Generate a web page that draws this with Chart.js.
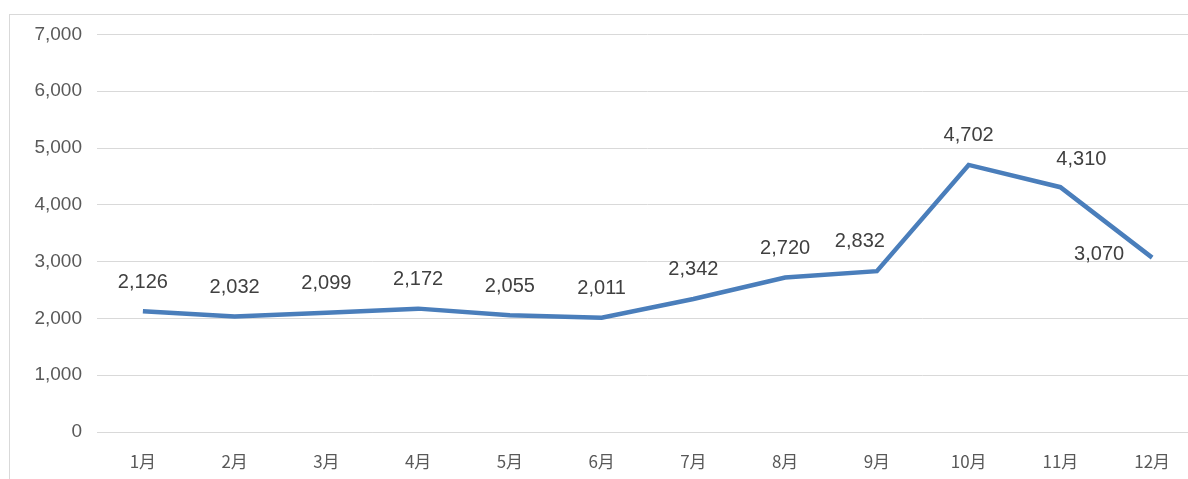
<!DOCTYPE html>
<html>
<head>
<meta charset="utf-8">
<script src="https://cdn.jsdelivr.net/npm/chart.js@4.4.0/dist/chart.umd.min.js"></script>
<style>
  html,body{margin:0;padding:0;background:#fff;overflow:hidden;width:1188px;height:479px}
  #frame{position:absolute;left:9px;top:14px;width:1200px;height:470px;border-left:1px solid #d9d9d9;border-top:1px solid #d9d9d9}
  canvas{display:block;position:absolute;left:0;top:-7px}
</style>
</head>
<body>
<div id="frame"><canvas id="c" width="1190" height="471"></canvas></div>
<script>
const months = ['1月','2月','3月','4月','5月','6月','7月','8月','9月','10月','11月','12月']
const values = [2126, 2032, 2099, 2172, 2055, 2011, 2342, 2720, 2832, 4702, 4310, 3070]
const yTicks = [0, 1000, 2000, 3000, 4000, 5000, 6000, 7000]

// hand nudges for a few labels, like the ones dragged around in the original
const labelNudge = {8: [-17, -1], 10: [21, 1], 11: [-53, 26]}

const valueLabels = {
  id: 'valueLabels',
  afterDatasetsDraw(chart){
    const ctx = chart.ctx
    const meta = chart.getDatasetMeta(0)
    ctx.save()
    ctx.font = '20px "Liberation Sans", Arial, sans-serif'
    ctx.fillStyle = '#404040'
    ctx.textAlign = 'center'
    ctx.textBaseline = 'middle'
    meta.data.forEach((pt, i)=>{
      const n = labelNudge[i] || [0, 0]
      ctx.fillText(values[i].toLocaleString('en-US'), pt.x + n[0], pt.y - 29 + n[1])
    })
    ctx.restore()
  }
}

new Chart(document.getElementById('c').getContext('2d'), {
  type: 'line',
  data: {
    labels: months,
    datasets: [{
      data: values,
      borderColor: '#4a7ebb',
      borderWidth: 4.5,
      pointRadius: 0,
      tension: 0,
      fill: false
    }]
  },
  options: {
    responsive: false,
    animation: false,
    layout: {padding: {top: 12, right: 2, left: 0, bottom: 0}},
    plugins: {legend: {display: false}, tooltip: {enabled: false}},
    scales: {
      x: {
        offset: true,
        grid: {display: false, drawTicks: false},
        border: {display: true, color: '#d9d9d9', width: 1},
        ticks: {color: '#595959', padding: 19, font: {size: 17, family: '"Noto Sans CJK SC", "Liberation Sans", sans-serif'}},
        afterFit(s){ s.height = 47 }
      },
      y: {
        min: 0,
        max: 7000,
        afterBuildTicks(s){ s.ticks = yTicks.map(v=>({value: v})) },
        grid: {color: '#d9d9d9', lineWidth: 1, drawTicks: false},
        border: {display: false},
        ticks: {color: '#595959', padding: 15, font: {size: 19, family: '"Liberation Sans", Arial, sans-serif'},
          callback: v => v.toLocaleString('en-US')},
        afterFit(s){ s.width = 87 }
      }
    }
  },
  plugins: [valueLabels]
})
</script>
</body>
</html>
